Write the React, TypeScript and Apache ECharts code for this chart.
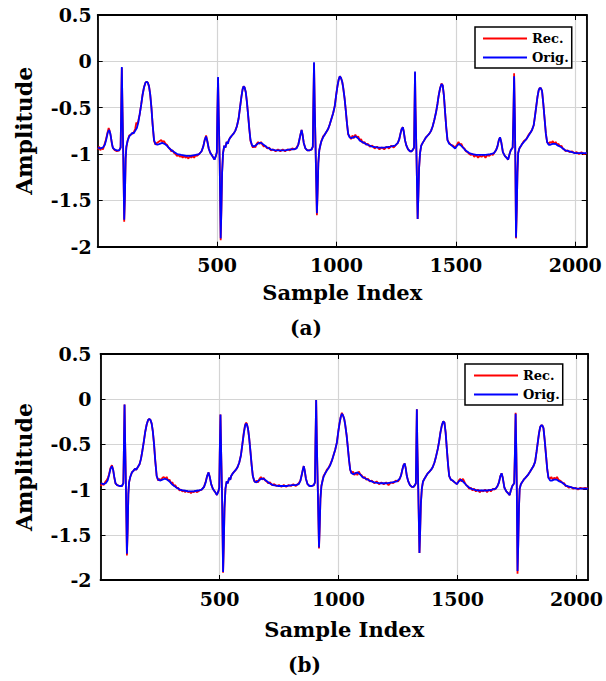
import React, { useEffect, useRef } from "react";
import * as echarts from "echarts";

// Original ECG segment (shared by both panels), [sample index, amplitude]
const orig: [number, number][] = [
  [1,-0.93],[12,-0.94],[22,-0.93],[30,-0.9],[36,-0.84],[42,-0.77],[48,-0.74],[53,-0.78],[58,-0.86],[63,-0.93],[70,-0.95],[80,-0.96],[90,-0.96],[96,-0.93],
  [98,-0.6],[101,-0.06],[104,-0.55],[107,-1.0],[111,-1.71],[114,-1.45],[117,-1.05],[120,-0.92],[125,-0.86],[132,-0.81],[139,-0.79],[145,-0.77],[150,-0.78],[157,-0.75],[164,-0.72],[170,-0.66],[176,-0.57],[182,-0.47],[188,-0.36],[194,-0.28],[200,-0.23],[205,-0.22],[210,-0.23],[215,-0.27],[220,-0.36],[225,-0.5],[230,-0.68],[236,-0.85],[242,-0.89],[250,-0.9],[260,-0.89],[270,-0.88],[280,-0.89],[290,-0.91],[300,-0.94],[315,-0.97],[333,-1.0],[350,-1.01],[370,-1.02],[390,-1.02],[410,-1.01],[425,-1.0],[435,-0.97],[442,-0.92],[448,-0.85],[454,-0.81],[459,-0.86],[465,-0.94],[472,-0.99],[480,-1.02],[489,-1.06],[495,-1.02],[499,-0.98],
  [501,-0.6],[504,-0.17],[507,-0.6],[511,-1.1],[515,-1.91],[518,-1.6],[521,-1.2],[525,-0.99],[530,-0.91],[535,-0.93],[540,-0.87],[545,-0.89],[549,-0.85],[556,-0.82],[562,-0.8],[569,-0.78],[576,-0.75],[583,-0.7],[590,-0.62],[596,-0.5],[602,-0.38],[607,-0.3],[611,-0.27],[615,-0.28],[620,-0.33],[625,-0.44],[630,-0.58],[635,-0.73],[640,-0.85],[647,-0.91],[655,-0.92],[665,-0.9],[675,-0.88],[685,-0.88],[695,-0.9],[710,-0.93],[725,-0.95],[745,-0.96],[765,-0.96],[785,-0.96],[805,-0.95],[820,-0.95],[833,-0.94],[840,-0.9],[846,-0.83],[850,-0.78],[854,-0.74],[858,-0.79],[863,-0.88],[870,-0.94],[878,-0.96],[888,-0.96],[896,-0.95],[901,-0.92],
  [903,-0.5],[906,-0.01],[909,-0.5],[913,-1.0],[918,-1.64],[921,-1.4],[924,-1.1],[928,-0.96],[933,-0.9],[937,-0.86],[944,-0.82],[951,-0.79],[958,-0.76],[965,-0.73],[972,-0.68],[979,-0.62],[986,-0.56],[993,-0.48],[999,-0.36],[1004,-0.27],[1009,-0.2],[1014,-0.16],[1019,-0.18],[1024,-0.22],[1028,-0.28],[1034,-0.4],[1039,-0.53],[1044,-0.67],[1049,-0.78],[1055,-0.82],[1062,-0.83],[1070,-0.82],[1080,-0.81],[1090,-0.83],[1100,-0.86],[1115,-0.88],[1130,-0.9],[1150,-0.92],[1175,-0.93],[1200,-0.93],[1225,-0.92],[1245,-0.91],[1257,-0.88],[1263,-0.84],[1268,-0.78],[1273,-0.73],[1278,-0.71],[1282,-0.76],[1287,-0.85],[1293,-0.91],[1300,-0.95],[1308,-0.97],[1315,-0.97],[1321,-0.95],[1325,-0.93],
  [1327,-0.5],[1329,-0.11],[1331,-0.5],[1335,-1.0],[1340,-1.7],[1343,-1.45],[1346,-1.15],[1350,-0.99],[1355,-0.91],[1361,-0.88],[1368,-0.85],[1375,-0.82],[1382,-0.8],[1389,-0.78],[1396,-0.75],[1403,-0.7],[1410,-0.63],[1417,-0.55],[1423,-0.46],[1428,-0.37],[1434,-0.29],[1440,-0.245],[1445,-0.26],[1450,-0.37],[1455,-0.55],[1460,-0.72],[1465,-0.85],[1472,-0.89],[1479,-0.9],[1488,-0.92],[1497,-0.94],[1505,-0.91],[1514,-0.89],[1522,-0.91],[1530,-0.93],[1540,-0.96],[1556,-0.99],[1570,-1.0],[1585,-1.01],[1605,-1.01],[1625,-1.01],[1645,-1.0],[1660,-0.99],[1668,-0.96],[1674,-0.92],[1680,-0.85],[1685,-0.82],[1690,-0.87],[1697,-0.98],[1705,-1.02],[1712,-1.04],[1719,-1.06],[1725,-1.0],[1730,-0.96],[1738,-0.93],
  [1741,-0.6],[1744,-0.16],[1747,-0.6],[1749,-1.0],[1752,-1.9],[1755,-1.6],[1758,-1.2],[1761,-0.99],[1766,-0.94],[1771,-0.92],[1778,-0.89],[1785,-0.87],[1795,-0.84],[1805,-0.8],[1812,-0.77],[1819,-0.74],[1826,-0.69],[1832,-0.58],[1837,-0.48],[1842,-0.38],[1847,-0.31],[1851,-0.29],[1856,-0.29],[1861,-0.32],[1866,-0.45],[1872,-0.63],[1877,-0.78],[1882,-0.87],[1889,-0.9],[1896,-0.9],[1905,-0.89],[1917,-0.89],[1928,-0.91],[1938,-0.92],[1948,-0.94],[1958,-0.96],[1972,-0.97],[1986,-0.98],[2000,-0.99],[2014,-0.99],[2030,-0.99],[2048,-0.99]
];

// Reconstruction shown in panel (a)
const recA: [number, number][] = [
  [1,-0.95],[6,-0.92],[11,-0.96],[16,-0.93],[22,-0.95],[28,-0.9],[34,-0.85],[40,-0.78],[46,-0.72],[50,-0.75],[55,-0.81],[60,-0.9],[65,-0.94],[72,-0.96],[80,-0.97],[90,-0.96],[96,-0.93],
  [98,-0.6],[101,-0.07],[104,-0.55],[107,-1.0],[111,-1.73],[114,-1.45],[117,-1.05],[120,-0.93],[125,-0.86],[132,-0.8],[139,-0.79],[145,-0.78],[150,-0.77],[157,-0.73],[162,-0.66],[166,-0.68],[170,-0.64],[176,-0.57],[182,-0.47],[188,-0.36],[194,-0.28],[200,-0.23],[205,-0.22],[210,-0.23],[215,-0.27],[220,-0.36],[225,-0.5],[230,-0.68],[236,-0.86],[242,-0.9],[248,-0.88],[254,-0.87],[260,-0.86],[266,-0.85],[272,-0.87],[278,-0.86],[284,-0.89],[290,-0.9],[296,-0.93],[302,-0.94],[308,-0.97],[314,-0.96],[320,-0.99],[326,-1.0],[332,-1.02],[338,-1.01],[344,-1.03],[350,-1.02],[356,-1.04],[362,-1.02],[368,-1.04],[374,-1.03],[380,-1.05],[386,-1.02],[392,-1.04],[398,-1.02],[404,-1.04],[410,-1.01],[416,-1.02],[425,-1.0],[435,-0.97],[442,-0.92],[448,-0.85],[454,-0.8],[459,-0.86],[465,-0.94],[472,-0.99],[480,-1.02],[489,-1.06],[495,-1.02],[499,-0.98],
  [501,-0.6],[504,-0.18],[507,-0.6],[511,-1.1],[515,-1.93],[518,-1.6],[521,-1.2],[525,-0.99],[530,-0.91],[535,-0.93],[540,-0.87],[545,-0.89],[549,-0.85],[556,-0.82],[562,-0.8],[569,-0.78],[576,-0.75],[583,-0.7],[590,-0.62],[596,-0.5],[602,-0.38],[607,-0.3],[611,-0.27],[615,-0.28],[620,-0.33],[625,-0.44],[630,-0.58],[635,-0.73],[640,-0.86],[645,-0.9],[650,-0.93],[655,-0.91],[660,-0.93],[666,-0.89],[672,-0.87],[678,-0.89],[684,-0.87],[690,-0.9],[696,-0.92],[702,-0.91],[710,-0.94],[718,-0.93],[725,-0.96],[735,-0.95],[745,-0.97],[755,-0.95],[765,-0.97],[775,-0.95],[785,-0.97],[795,-0.95],[805,-0.96],[815,-0.94],[825,-0.95],[833,-0.93],[840,-0.9],[846,-0.83],[850,-0.78],[854,-0.74],[858,-0.79],[863,-0.88],[870,-0.94],[878,-0.96],[888,-0.96],[896,-0.95],[901,-0.92],
  [903,-0.5],[906,-0.02],[909,-0.5],[913,-1.0],[918,-1.66],[921,-1.4],[924,-1.1],[928,-0.96],[933,-0.9],[937,-0.86],[944,-0.81],[951,-0.79],[958,-0.76],[965,-0.73],[972,-0.68],[979,-0.62],[986,-0.56],[993,-0.48],[999,-0.36],[1004,-0.27],[1009,-0.2],[1014,-0.16],[1019,-0.18],[1024,-0.22],[1028,-0.28],[1034,-0.4],[1039,-0.53],[1044,-0.67],[1049,-0.79],[1055,-0.81],[1061,-0.84],[1067,-0.8],[1073,-0.83],[1079,-0.79],[1085,-0.82],[1091,-0.81],[1097,-0.85],[1103,-0.84],[1110,-0.88],[1117,-0.87],[1124,-0.9],[1131,-0.89],[1140,-0.92],[1150,-0.91],[1160,-0.94],[1170,-0.92],[1180,-0.95],[1190,-0.93],[1200,-0.95],[1210,-0.92],[1220,-0.94],[1230,-0.91],[1240,-0.93],[1250,-0.9],[1257,-0.88],[1263,-0.84],[1268,-0.78],[1273,-0.73],[1278,-0.71],[1282,-0.76],[1287,-0.85],[1293,-0.91],[1300,-0.95],[1308,-0.97],[1315,-0.97],[1321,-0.95],[1325,-0.93],
  [1327,-0.5],[1329,-0.12],[1331,-0.5],[1335,-1.0],[1340,-1.7],[1343,-1.45],[1346,-1.15],[1350,-0.99],[1355,-0.91],[1361,-0.88],[1368,-0.85],[1375,-0.82],[1382,-0.8],[1389,-0.78],[1396,-0.75],[1403,-0.7],[1410,-0.63],[1417,-0.55],[1423,-0.46],[1428,-0.37],[1434,-0.29],[1440,-0.24],[1445,-0.26],[1450,-0.37],[1455,-0.55],[1460,-0.72],[1465,-0.85],[1472,-0.88],[1479,-0.9],[1488,-0.91],[1497,-0.93],[1505,-0.9],[1511,-0.87],[1517,-0.9],[1523,-0.89],[1530,-0.93],[1536,-0.94],[1542,-0.97],[1549,-0.98],[1556,-1.0],[1563,-1.01],[1570,-1.0],[1577,-1.03],[1585,-1.01],[1593,-1.04],[1600,-1.02],[1608,-1.03],[1616,-1.01],[1624,-1.04],[1632,-1.01],[1640,-1.02],[1648,-1.0],[1655,-1.01],[1660,-0.99],[1668,-0.96],[1674,-0.92],[1680,-0.85],[1685,-0.82],[1690,-0.87],[1697,-0.98],[1705,-1.02],[1712,-1.04],[1719,-1.06],[1725,-1.0],[1730,-0.96],[1738,-0.93],
  [1741,-0.6],[1744,-0.13],[1747,-0.6],[1749,-1.0],[1752,-1.91],[1755,-1.6],[1758,-1.2],[1761,-0.99],[1766,-0.94],[1771,-0.92],[1778,-0.89],[1785,-0.86],[1795,-0.84],[1805,-0.79],[1812,-0.77],[1819,-0.74],[1826,-0.69],[1832,-0.58],[1837,-0.48],[1842,-0.38],[1847,-0.31],[1851,-0.29],[1856,-0.29],[1861,-0.32],[1866,-0.45],[1872,-0.63],[1877,-0.78],[1882,-0.87],[1888,-0.89],[1894,-0.87],[1900,-0.88],[1906,-0.86],[1912,-0.89],[1918,-0.87],[1924,-0.9],[1930,-0.89],[1936,-0.92],[1942,-0.91],[1948,-0.94],[1954,-0.95],[1960,-0.97],[1968,-0.96],[1976,-0.98],[1986,-0.97],[1996,-0.99],[2006,-0.98],[2016,-1.0],[2026,-0.98],[2036,-1.0],[2048,-0.99]
];

// Reconstruction shown in panel (b)
const recB: [number, number][] = [
  [1,-0.96],[7,-0.93],[13,-0.95],[19,-0.92],[25,-0.9],[31,-0.87],[36,-0.83],[42,-0.76],[48,-0.73],[53,-0.78],[58,-0.87],[63,-0.93],[70,-0.95],[80,-0.96],[90,-0.96],[96,-0.93],
  [98,-0.6],[101,-0.06],[104,-0.55],[107,-1.0],[111,-1.73],[114,-1.45],[117,-1.05],[120,-0.92],[125,-0.86],[132,-0.81],[139,-0.79],[145,-0.77],[150,-0.78],[157,-0.75],[164,-0.72],[170,-0.66],[176,-0.57],[182,-0.47],[188,-0.36],[194,-0.28],[200,-0.23],[205,-0.22],[210,-0.23],[215,-0.27],[220,-0.36],[225,-0.5],[230,-0.68],[236,-0.85],[242,-0.9],[248,-0.88],[254,-0.9],[260,-0.87],[266,-0.86],[272,-0.88],[278,-0.86],[284,-0.9],[290,-0.89],[296,-0.93],[302,-0.92],[308,-0.96],[314,-0.95],[320,-0.98],[326,-0.98],[332,-1.01],[338,-1.0],[344,-1.02],[350,-1.01],[356,-1.03],[362,-1.01],[368,-1.03],[374,-1.02],[380,-1.04],[386,-1.02],[392,-1.03],[398,-1.01],[404,-1.03],[410,-1.02],[416,-1.01],[425,-1.0],[435,-0.97],[442,-0.91],[448,-0.85],[454,-0.81],[459,-0.86],[465,-0.94],[472,-0.99],[480,-1.02],[489,-1.06],[495,-1.02],[499,-0.98],
  [501,-0.6],[504,-0.17],[507,-0.6],[511,-1.1],[515,-1.92],[518,-1.6],[521,-1.2],[525,-0.99],[530,-0.91],[535,-0.93],[540,-0.87],[545,-0.89],[549,-0.85],[556,-0.82],[562,-0.8],[569,-0.78],[576,-0.75],[583,-0.7],[590,-0.62],[596,-0.5],[602,-0.37],[607,-0.29],[611,-0.26],[615,-0.27],[620,-0.33],[625,-0.44],[630,-0.58],[635,-0.73],[640,-0.85],[645,-0.9],[650,-0.92],[656,-0.9],[662,-0.92],[668,-0.88],[674,-0.86],[680,-0.89],[686,-0.87],[692,-0.9],[698,-0.91],[705,-0.93],[712,-0.92],[720,-0.95],[730,-0.94],[740,-0.96],[750,-0.95],[760,-0.97],[770,-0.95],[780,-0.97],[790,-0.95],[800,-0.96],[810,-0.94],[820,-0.96],[833,-0.93],[840,-0.9],[846,-0.83],[850,-0.78],[854,-0.74],[858,-0.79],[863,-0.88],[870,-0.94],[878,-0.96],[888,-0.96],[896,-0.95],[901,-0.92],
  [903,-0.5],[906,-0.01],[909,-0.5],[913,-1.0],[918,-1.65],[921,-1.4],[924,-1.1],[928,-0.96],[933,-0.9],[937,-0.85],[944,-0.82],[951,-0.78],[958,-0.76],[965,-0.72],[972,-0.68],[979,-0.62],[986,-0.56],[993,-0.48],[999,-0.36],[1004,-0.27],[1009,-0.2],[1014,-0.15],[1019,-0.18],[1024,-0.22],[1028,-0.28],[1034,-0.4],[1039,-0.53],[1044,-0.67],[1049,-0.78],[1055,-0.82],[1061,-0.8],[1067,-0.84],[1073,-0.81],[1079,-0.84],[1085,-0.8],[1091,-0.83],[1097,-0.84],[1103,-0.87],[1110,-0.86],[1117,-0.89],[1124,-0.88],[1131,-0.91],[1140,-0.9],[1150,-0.93],[1160,-0.91],[1170,-0.94],[1180,-0.92],[1190,-0.94],[1200,-0.92],[1210,-0.95],[1220,-0.92],[1230,-0.93],[1240,-0.9],[1250,-0.91],[1257,-0.88],[1263,-0.84],[1268,-0.78],[1273,-0.73],[1278,-0.71],[1282,-0.76],[1287,-0.85],[1293,-0.91],[1300,-0.95],[1308,-0.97],[1315,-0.97],[1321,-0.95],[1325,-0.93],
  [1327,-0.5],[1329,-0.11],[1331,-0.5],[1335,-1.0],[1340,-1.7],[1343,-1.45],[1346,-1.15],[1350,-0.99],[1355,-0.91],[1361,-0.88],[1368,-0.85],[1375,-0.82],[1382,-0.8],[1389,-0.78],[1396,-0.75],[1403,-0.7],[1410,-0.63],[1417,-0.55],[1423,-0.46],[1428,-0.37],[1434,-0.29],[1440,-0.245],[1445,-0.26],[1450,-0.37],[1455,-0.55],[1460,-0.72],[1465,-0.85],[1472,-0.89],[1479,-0.9],[1488,-0.92],[1497,-0.94],[1505,-0.9],[1511,-0.88],[1517,-0.91],[1523,-0.88],[1530,-0.92],[1536,-0.95],[1542,-0.96],[1549,-0.99],[1556,-0.98],[1563,-1.01],[1570,-0.99],[1577,-1.02],[1585,-1.0],[1593,-1.03],[1600,-1.01],[1608,-1.02],[1616,-1.0],[1624,-1.03],[1632,-1.0],[1640,-1.02],[1648,-0.99],[1655,-1.0],[1660,-0.99],[1668,-0.96],[1674,-0.92],[1680,-0.85],[1685,-0.82],[1690,-0.87],[1697,-0.98],[1705,-1.02],[1712,-1.04],[1719,-1.06],[1725,-1.0],[1730,-0.96],[1738,-0.93],
  [1741,-0.6],[1744,-0.15],[1747,-0.6],[1749,-1.0],[1752,-1.93],[1755,-1.6],[1758,-1.2],[1761,-0.99],[1766,-0.94],[1771,-0.92],[1778,-0.89],[1785,-0.87],[1795,-0.84],[1805,-0.8],[1812,-0.77],[1819,-0.74],[1826,-0.69],[1832,-0.58],[1837,-0.48],[1842,-0.38],[1847,-0.31],[1851,-0.29],[1856,-0.29],[1861,-0.32],[1866,-0.45],[1872,-0.63],[1877,-0.78],[1882,-0.87],[1888,-0.88],[1894,-0.86],[1900,-0.89],[1906,-0.87],[1912,-0.88],[1918,-0.86],[1924,-0.89],[1930,-0.9],[1936,-0.91],[1942,-0.93],[1948,-0.93],[1954,-0.96],[1960,-0.96],[1968,-0.98],[1976,-0.97],[1986,-0.99],[1996,-0.98],[2006,-1.0],[2016,-0.98],[2026,-0.99],[2036,-0.98],[2048,-0.99]
];

const seriesNames = ["Rec.", "Orig."];
const panelLabels = ["(a)", "(b)"];
const xTitle = "Sample Index";
const yTitle = "Amplitude";

const FONT = "DejaVu Serif";

function makeAxes(gridIndex: number, labelMargin: number, nameGap: number, yLabelMargin: number, yNameGap: number) {
  const line = { show: true, onZero: false, lineStyle: { color: "#000", width: 1.8 } };
  const tick = { show: true, inside: true, length: 5, lineStyle: { color: "#000", width: 1 } };
  const xBase = { type: "value", gridIndex, min: 0, max: 2048, interval: 500 };
  const yBase = { type: "value", gridIndex, min: -2, max: 0.5, interval: 0.5 };
  const xAxes = [
    {
      ...xBase,
      position: "bottom",
      axisLine: line,
      axisTick: tick,
      axisLabel: {
        show: true, showMinLabel: false, showMaxLabel: false, color: "#000", fontFamily: FONT, fontWeight: "bold", fontSize: 19, margin: labelMargin,
        formatter: (v: number) => String(v),
      },
      splitLine: { show: true, lineStyle: { color: "#d4d4d4", width: 1.2 } },
      name: xTitle,
      nameLocation: "middle",
      nameGap,
      nameTextStyle: { color: "#000", fontFamily: FONT, fontWeight: "bold", fontSize: 21 },
    },
    { ...xBase, position: "top", axisLine: line, axisTick: tick, axisLabel: { show: false }, splitLine: { show: false } },
  ];
  const yAxes = [
    {
      ...yBase,
      position: "left",
      axisLine: line,
      axisTick: tick,
      axisLabel: { show: true, color: "#000", fontFamily: FONT, fontWeight: "bold", fontSize: 19, margin: yLabelMargin, formatter: (v: number) => String(v) },
      splitLine: { show: true, lineStyle: { color: "#d4d4d4", width: 1.2 } },
      name: yTitle,
      nameLocation: "middle",
      nameRotate: 90,
      nameGap: yNameGap,
      nameTextStyle: { color: "#000", fontFamily: FONT, fontWeight: "bold", fontSize: 22 },
    },
    { ...yBase, position: "right", axisLine: line, axisTick: tick, axisLabel: { show: false }, splitLine: { show: false } },
  ];
  return { xAxes, yAxes };
}

export default function App() {
  const ref = useRef<HTMLDivElement>(null);
  useEffect(() => {
    if (!ref.current) return;
    const chart = echarts.init(ref.current, undefined, { renderer: "svg" });
    const a = makeAxes(0, 9, 35, 6, 63);
    const b = makeAxes(1, 9, 39, 9, 66);
    const legendCommon = {
      orient: "vertical",
      data: seriesNames,
      selectedMode: false,
      icon: "rect",
      itemWidth: 44,
      itemHeight: 2,
      itemGap: 6,
      backgroundColor: "#fff",
      borderColor: "#000",
      borderWidth: 1.5,
      borderRadius: 0,
      textStyle: { color: "#000", fontFamily: FONT, fontWeight: "bold", fontSize: 13 },
    };
    const lineSeries = (name: string, data: [number, number][], color: string, axis: number, z: number) => ({
      type: "line",
      name,
      data,
      xAxisIndex: axis * 2,
      yAxisIndex: axis * 2,
      symbol: "none",
      showSymbol: false,
      lineStyle: { color, width: 1.8 },
      itemStyle: { color },
      z,
    });
    chart.setOption({
      animation: false,
      backgroundColor: "#fff",
      textStyle: { fontFamily: FONT },
      grid: [
        { left: 97.7, top: 15, width: 489, height: 231.7 },
        { left: 100.5, top: 354, width: 488, height: 226 },
      ],
      xAxis: [...a.xAxes, ...b.xAxes],
      yAxis: [...a.yAxes, ...b.yAxes],
      legend: [
        { ...legendCommon, left: 475, top: 27, padding: [5, 3, 4, 8] },
        { ...legendCommon, left: 465, top: 364, padding: [5, 3, 4, 9] },
      ],
      series: [
        lineSeries(seriesNames[0], recA, "#ff0000", 0, 2),
        lineSeries(seriesNames[1], orig, "#0000ff", 0, 3),
        lineSeries(seriesNames[0], recB, "#ff0000", 1, 2),
        lineSeries(seriesNames[1], orig, "#0000ff", 1, 3),
      ],
      graphic: [
        { type: "text", left: 290, top: 318, style: { text: panelLabels[0], fill: "#000", font: `bold 20px '${FONT}'` } },
        { type: "text", left: 288, top: 655, style: { text: panelLabels[1], fill: "#000", font: `bold 20px '${FONT}'` } },
      ],
    });
    return () => chart.dispose();
  }, []);
  return <div ref={ref} style={{ position: "absolute", left: 0, top: 0, width: 606, height: 681 }} />;
}
